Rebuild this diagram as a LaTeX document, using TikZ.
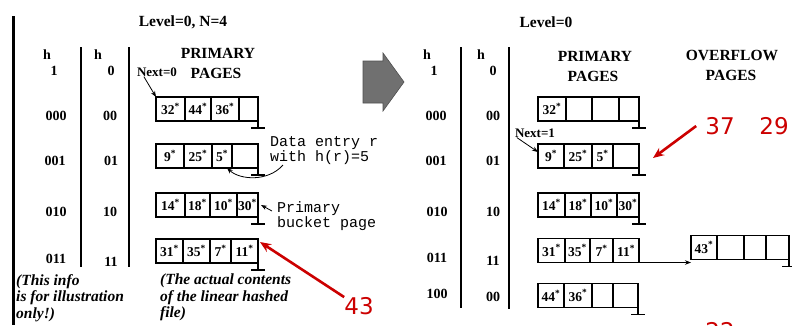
\documentclass[tikz,border=0pt]{standalone}
\usepackage{fontspec}
\setmainfont{Liberation Serif}
\setmonofont{Liberation Mono}
\newfontfamily\redfont{DejaVu Sans}
\usetikzlibrary{arrows.meta,positioning}
\definecolor{slidered}{RGB}{204,0,0}
\definecolor{arrowgray}{RGB}{112,112,112}
\newcommand{\ent}[1]{#1\textsuperscript{*}}
\newcommand{\nullptr}[1]{\draw[edge] (#1.south east) -- ++(0,7) ++(-7,0) -- ++(14,0);}

\begin{document}
\begin{tikzpicture}[
    x=1pt, y=-1pt,
    lbl/.style={inner sep=0pt, font=\fontsize{14}{14}\selectfont\bfseries},
    head/.style={inner sep=0pt, font=\fontsize{15.5}{15.5}\selectfont\bfseries},
    note/.style={inner sep=0pt, align=left, font=\fontsize{15.5}{16.5}\selectfont\bfseries\itshape},
    tnote/.style={inner sep=0pt, align=left, font=\fontsize{15}{15.5}\selectfont\ttfamily},
    cell/.style={draw, line width=1.1pt, minimum height=24pt, inner sep=0pt, outer sep=0pt,
                 font=\fontsize{13.5}{13.5}\selectfont\bfseries},
    edge/.style={line width=1.1pt},
    arrow/.style={-{Stealth[length=6pt,width=4.5pt]}, line width=0.8pt},
    redarrow/.style={-{Stealth[length=11pt,width=9pt]}, line width=2.6pt, draw=slidered},
    rednum/.style={inner sep=0pt, text=slidered, font=\fontsize{23}{23}\selectfont\redfont}
]
\useasboundingbox (0,0) rectangle (792,325);
\clip (0,0) rectangle (792,325);
\fill[white] (0,0) rectangle (792,325);

% left border
\draw[line width=3pt] (13,16) -- (13,325);

% ---------- before the split ----------
\node[head] (lev0) at (183,22) {Level=0, N=4};
\node[lbl] (lh1) at (47,55) {h};
\node[lbl] (lh1i) at (54,71) {1};
\node[lbl] (lh0) at (98,55) {h};
\node[lbl] (lh0i) at (111,71) {0};
\node[head] (lprim) at (218,53) {PRIMARY};
\node[head] (lpag) at (216,73) {PAGES};
\draw[edge] (81,47) -- (81,267);
\draw[edge] (129,47) -- (129,267);

\node[lbl] (la0) at (56,116) {000};
\node[lbl] (lb0) at (110,116) {00};
\node[lbl] (la1) at (55,161) {001};
\node[lbl] (lb1) at (111,161) {01};
\node[lbl] (la2) at (56,212) {010};
\node[lbl] (lb2) at (110,212) {10};
\node[lbl] (la3) at (56,259) {011};
\node[lbl] (lb3) at (111,262) {11};

\foreach \xa/\xb/\t [count=\i] in {156/185/{\ent{32}}, 185/211/{\ent{44}}, 211/239/{\ent{36}}, 239/258/{}}
  \node[cell, minimum width=\xb pt-\xa pt] (p0-\i) at ({(\xa+\xb)/2},109) {\t};
\foreach \xa/\xb/\t [count=\i] in {156/184/{\ent{9}}, 184/212/{\ent{25}}, 212/232/{\ent{5}}, 232/258/{}}
  \node[cell, minimum width=\xb pt-\xa pt] (p1-\i) at ({(\xa+\xb)/2},156) {\t};
\foreach \xa/\xb/\t [count=\i] in {156/185/{\ent{14}}, 185/210/{\ent{18}}, 210/237/{\ent{10}}, 237/258/{\ent{30}}}
  \node[cell, minimum width=\xb pt-\xa pt] (p2-\i) at ({(\xa+\xb)/2},205) {\t};
\foreach \xa/\xb/\t [count=\i] in {156/183/{\ent{31}}, 183/210/{\ent{35}}, 210/231/{\ent{7}}, 231/258/{\ent{11}}}
  \node[cell, minimum width=\xb pt-\xa pt] (p3-\i) at ({(\xa+\xb)/2},251) {\t};
\nullptr{p0-4}
\nullptr{p1-4}
\nullptr{p2-4}
\nullptr{p3-4}

\node[lbl, font=\fontsize{13}{13}\selectfont\bfseries] (next0) at (157,72) {Next=0};
\draw[arrow] ([xshift=7pt]next0.south west) -- (p0-1.north west);

\node[tnote, anchor=north west] (dataent) at (270,136) {Data entry r\\with h(r)=5};
\draw[arrow] ([xshift=13pt]dataent.south west) .. controls (268,182) and (240,180) .. ([xshift=-5pt]p1-3.south east);
\node[tnote, anchor=north west] (prim) at (277,201) {Primary\\bucket page};
\draw[arrow] ([shift={(-5,10)}]prim.north west) -- ([xshift=3pt]p2-4.east);

\node[note, anchor=north west] (info) at (16,274) {(This info\\is for illustration\\only!)};
\node[note, anchor=north west] (contents) at (160,274) {(The actual contents\\of the linear hashed\\file)};

\node[rednum] (r43) at (359,306) {43};
\draw[redarrow] (r43.north west) -- ([shift={(2,3)}]p3-4.north east);

% ---------- split arrow ----------
\draw[fill=arrowgray, draw=arrowgray!70!black, line width=0.6pt]
  (363,61) -- (383,61) -- (383,53) -- (404,82) -- (383,111) -- (383,103) -- (363,103) -- cycle;

% ---------- after the split ----------
\node[head] (lev1) at (546,22) {Level=0};
\node[lbl] (rh1) at (427,55) {h};
\node[lbl] (rh1i) at (434,71) {1};
\node[lbl] (rh0) at (481,55) {h};
\node[lbl] (rh0i) at (493,71) {0};
\node[head] (rprim) at (595,56) {PRIMARY};
\node[head] (rpag) at (593,76) {PAGES};
\node[head] (rover) at (732,55) {OVERFLOW};
\node[head] (ropag) at (731,75) {PAGES};
\draw[edge] (461,47) -- (461,308);
\draw[edge] (509,47) -- (509,309);

\node[lbl] (ra0) at (436,116) {000};
\node[lbl] (rb0) at (493,116) {00};
\node[lbl] (ra1) at (436,161) {001};
\node[lbl] (rb1) at (493,161) {01};
\node[lbl] (ra2) at (437,212) {010};
\node[lbl] (rb2) at (493,212) {10};
\node[lbl] (ra3) at (437,258) {011};
\node[lbl] (rb3) at (493,261) {11};
\node[lbl] (ra4) at (437,294) {100};
\node[lbl] (rb4) at (493,297) {00};

\foreach \xa/\xb/\t [count=\i] in {538/566/{\ent{32}}, 566/592/{}, 592/619/{}, 619/639/{}}
  \node[cell, minimum width=\xb pt-\xa pt] (q0-\i) at ({(\xa+\xb)/2},109) {\t};
\foreach \xa/\xb/\t [count=\i] in {538/564/{\ent{9}}, 564/592/{\ent{25}}, 592/613/{\ent{5}}, 613/639/{}}
  \node[cell, minimum width=\xb pt-\xa pt] (q1-\i) at ({(\xa+\xb)/2},156) {\t};
\foreach \xa/\xb/\t [count=\i] in {538/565/{\ent{14}}, 565/591/{\ent{18}}, 591/617/{\ent{10}}, 617/639/{\ent{30}}}
  \node[cell, minimum width=\xb pt-\xa pt] (q2-\i) at ({(\xa+\xb)/2},205) {\t};
\foreach \xa/\xb/\t [count=\i] in {538/565/{\ent{31}}, 565/590/{\ent{35}}, 590/613/{\ent{7}}, 613/639/{\ent{11}}}
  \node[cell, minimum width=\xb pt-\xa pt] (q3-\i) at ({(\xa+\xb)/2},250.5) {\t};
\foreach \xa/\xb/\t [count=\i] in {538/564/{\ent{44}}, 564/592/{\ent{36}}, 592/613/{}, 613/638/{}}
  \node[cell, minimum width=\xb pt-\xa pt] (q4-\i) at ({(\xa+\xb)/2},295.5) {\t};
\foreach \xa/\xb/\t [count=\i] in {691/717/{\ent{43}}, 717/744/{}, 744/766/{}, 766/789/{}}
  \node[cell, minimum width=\xb pt-\xa pt] (ov-\i) at ({(\xa+\xb)/2},247.5) {\t};
\nullptr{q0-4}
\nullptr{q1-4}
\nullptr{q2-4}
\nullptr{q4-4}
\nullptr{ov-4}
\draw[arrow] (q3-4.south east) -- (q3-4.south east -| ov-1.west);

\node[lbl, font=\fontsize{13}{13}\selectfont\bfseries] (next1) at (535,133) {Next=1};
\draw[arrow] ([xshift=2pt]next1.south west) -- ([yshift=-8pt]q1-1.north west);

\node[rednum] (r37) at (720,126) {37};
\node[rednum] (r29) at (774,126) {29};
\draw[redarrow] ([xshift=-9pt]r37.west) -- ([shift={(14,2)}]q1-4.east);
\node[rednum] (r22) at (720,331) {22};
\end{tikzpicture}
\end{document}
